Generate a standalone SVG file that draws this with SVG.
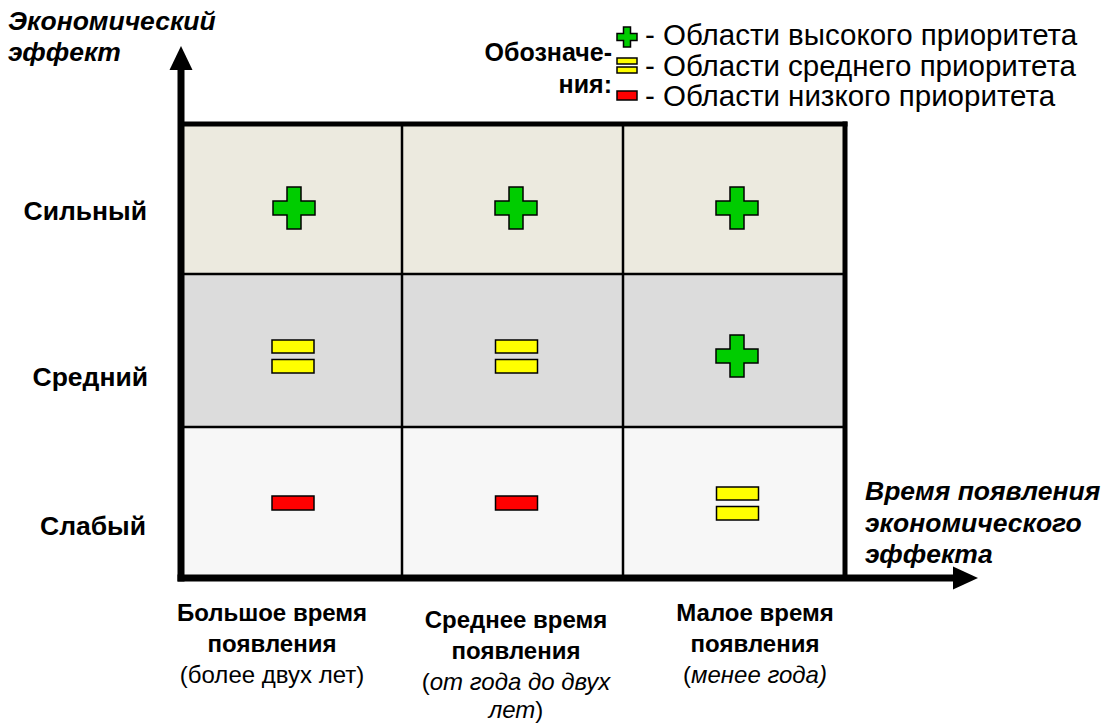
<svg xmlns="http://www.w3.org/2000/svg" width="1105" height="724" viewBox="0 0 1105 724">
  <style>
    text { font-family: "Liberation Sans", Arial, sans-serif; fill: #000; }
    .lbl { font-size: 26.5px; font-weight: bold; text-anchor: end; }
    .axis { font-size: 26.5px; font-weight: bold; font-style: italic; }
    .leg { font-size: 29.5px; }
    .key { font-size: 25px; font-weight: bold; text-anchor: end; }
    .col { font-size: 24px; text-anchor: middle; }
    .b { font-weight: bold; }
    .i { font-style: italic; }
    .plus { fill: #00CC00; stroke: #000; stroke-width: 1.5; }
    .mid { fill: #FFFF00; stroke: #000; stroke-width: 1.5; }
    .low { fill: #FF0000; stroke: #000; stroke-width: 1.5; }
    .thin { stroke: #000; stroke-width: 2.5; fill: none; }
    .thick { stroke: #000; fill: none; }
  </style>
  <defs>
    <!-- plus icon, 42px, centred on origin -->
    <path id="plusBig" class="plus" d="M-7,-21 H7 V-7 H21 V7 H7 V21 H-7 V7 H-21 V-7 H-7 Z"/>
    <g id="eqBig">
      <rect class="mid" x="-21" y="-16.5" width="42" height="13"/>
      <rect class="mid" x="-21" y="3" width="42" height="13.5"/>
    </g>
    <rect id="minusBig" class="low" x="-21" y="-7" width="42" height="14"/>
  </defs>

  <rect width="1105" height="724" fill="#fff"/>

  <!-- cells -->
  <g id="cells">
    <rect x="181" y="124" width="664" height="150" fill="#ECEADF"/>
    <rect x="181" y="274" width="664" height="153" fill="#DCDCDC"/>
    <rect x="181" y="427" width="664" height="151" fill="#F7F7F7"/>
  </g>

  <!-- grid and axes -->
  <g id="connectors">
    <line class="thin" x1="402" y1="124" x2="402" y2="578"/>
    <line class="thin" x1="623" y1="124" x2="623" y2="578"/>
    <line class="thin" x1="181" y1="274" x2="845" y2="274"/>
    <line class="thin" x1="181" y1="427" x2="845" y2="427"/>
    <line class="thick" stroke-width="5" x1="181" y1="124" x2="847.5" y2="124"/>
    <line class="thick" stroke-width="5" x1="845" y1="121.5" x2="845" y2="578"/>
    <line class="thick" stroke-width="7" x1="181" y1="581.5" x2="181" y2="68"/>
    <polygon points="169.5,70 181,46 192.5,70" fill="#000"/>
    <line class="thick" stroke-width="7" x1="177.5" y1="578" x2="955" y2="578"/>
    <polygon points="953,566.5 978,578 953,589.5" fill="#000"/>
  </g>

  <!-- matrix cells -->
  <g id="cell-r1c1"><use href="#plusBig" x="294" y="208"/></g>
  <g id="cell-r1c2"><use href="#plusBig" x="516" y="208"/></g>
  <g id="cell-r1c3"><use href="#plusBig" x="737" y="208"/></g>
  <g id="cell-r2c1"><use href="#eqBig" x="293" y="356.5"/></g>
  <g id="cell-r2c2"><use href="#eqBig" x="516.5" y="356.5"/></g>
  <g id="cell-r2c3"><use href="#plusBig" x="737" y="356"/></g>
  <g id="cell-r3c1"><use href="#minusBig" x="293" y="503"/></g>
  <g id="cell-r3c2"><use href="#minusBig" x="516.5" y="503"/></g>
  <g id="cell-r3c3"><use href="#eqBig" x="737.5" y="503.5"/></g>

  <!-- axis titles -->
  <g id="y-title">
    <text class="axis" x="8" y="30">Экономический</text>
    <text class="axis" x="8" y="61">эффект</text>
  </g>
  <g id="x-title">
    <text class="axis" x="865" y="500">Время появления</text>
    <text class="axis" x="865" y="532">экономического</text>
    <text class="axis" x="865" y="563">эффекта</text>
  </g>

  <!-- row labels -->
  <g id="row-strong"><text class="lbl" x="147" y="220">Сильный</text></g>
  <g id="row-medium"><text class="lbl" x="148" y="386">Средний</text></g>
  <g id="row-weak"><text class="lbl" x="146" y="535">Слабый</text></g>

  <!-- column labels -->
  <g id="col-long">
    <text class="col b" x="272" y="621">Большое время</text>
    <text class="col b" x="272" y="652">появления</text>
    <text class="col" x="272" y="683">(более двух лет)</text>
  </g>
  <g id="col-mid">
    <text class="col b" x="516" y="628">Среднее время</text>
    <text class="col b" x="516" y="659">появления</text>
    <text class="col" x="516" y="690">(<tspan class="i">от года до двух</tspan></text>
    <text class="col" x="516" y="718"><tspan class="i">лет</tspan>)</text>
  </g>
  <g id="col-short">
    <text class="col b" x="755" y="621">Малое время</text>
    <text class="col b" x="755" y="652">появления</text>
    <text class="col" x="755" y="683">(<tspan class="i">менее года)</tspan></text>
  </g>

  <!-- legend -->
  <g id="legend">
    <text class="key" x="612" y="61">Обозначе-</text>
    <text class="key" x="612" y="93">ния:</text>
    <path class="plus" d="M623.5,27 H630.5 V33.5 H637 V40.5 H630.5 V47 H623.5 V40.5 H617 V33.5 H623.5 Z" stroke-width="1.2"/>
    <rect class="mid" x="617" y="58" width="20" height="6" stroke-width="1.2"/>
    <rect class="mid" x="617" y="67" width="20" height="6" stroke-width="1.2"/>
    <rect class="low" x="617" y="91" width="20" height="9" stroke-width="1.2"/>
    <text class="leg" x="645" y="45">- Области высокого приоритета</text>
    <text class="leg" x="645" y="76">- Области среднего приоритета</text>
    <text class="leg" x="645" y="106">- Области низкого приоритета</text>
  </g>
</svg>
